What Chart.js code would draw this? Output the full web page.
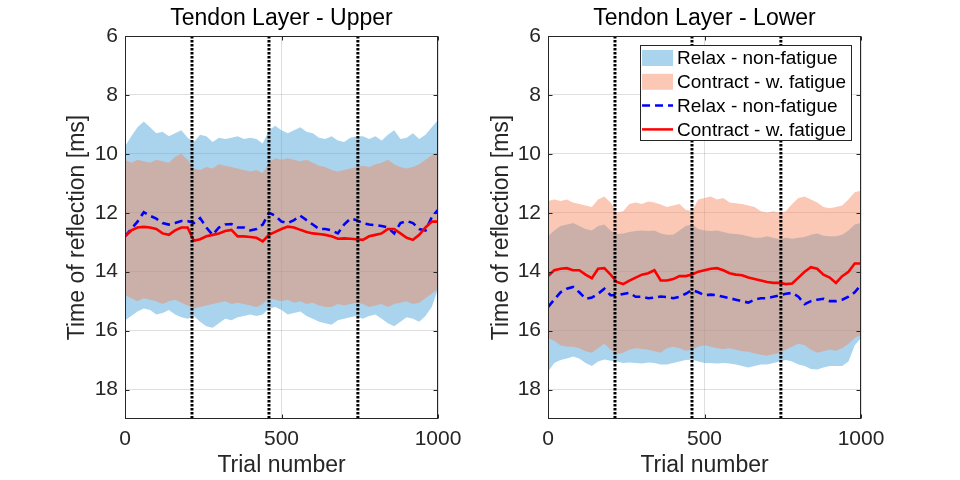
<!DOCTYPE html>
<html><head><meta charset="utf-8">
<script src="https://cdn.jsdelivr.net/npm/chart.js@4.4.1/dist/chart.umd.min.js"></script>
<style>
html,body{margin:0;padding:0;background:#fff;width:960px;height:480px;overflow:hidden}
.p{position:absolute;top:0;width:480px;height:480px}
</style></head><body>
<div class="p" style="left:0"><canvas id="c1" width="480" height="480"></canvas></div>
<div class="p" style="left:480px"><canvas id="c2" width="480" height="480"></canvas></div>
<script>
const trials = [0,20,40,60,80,100,120,140,160,180,200,220,240,260,280,300,320,340,360,380,400,420,440,460,480,500,520,540,560,580,600,620,640,660,680,700,720,740,760,780,800,820,840,860,880,900,920,940,960,980,1000];
const sessionBreaks = [214, 460, 744];
const yTicks = [6,8,10,12,14,16,18];
const xTicks = [0,500,1000];
const titles = ['Tendon Layer - Upper','Tendon Layer - Lower'];
const legendLabels = ['Relax - non-fatigue','Contract - w. fatigue','Relax - non-fatigue','Contract - w. fatigue'];

// Upper layer
const upperRelaxTop = [9.75,9.4,9.1,8.9,9.1,9.3,9.25,9.4,9.3,9.2,9.45,9.6,9.35,9.4,9.6,9.45,9.5,9.45,9.4,9.5,9.45,9.5,9.65,9.2,9.05,9.2,9.3,9.2,9.1,9.25,9.3,9.45,9.5,9.4,9.55,9.6,9.45,9.4,9.4,9.5,9.4,9.55,9.35,9.2,9.5,9.45,9.3,9.5,9.35,9.1,8.85];
const upperRelaxBottom = [15.65,15.5,15.35,15.25,15.3,15.45,15.4,15.3,15.45,15.55,15.6,15.5,15.7,15.85,15.9,15.75,15.6,15.65,15.55,15.5,15.45,15.5,15.45,15.25,15.2,15.3,15.45,15.4,15.35,15.5,15.6,15.7,15.75,15.8,15.65,15.6,15.55,15.5,15.6,15.5,15.45,15.6,15.75,15.85,15.7,15.55,15.6,15.7,15.5,15.2,14.6];
const upperContractTop = [10.2,10.3,10.2,10.25,10.3,10.2,10.25,10.3,10.1,10.0,10.2,10.5,10.55,10.45,10.5,10.35,10.4,10.45,10.5,10.55,10.6,10.55,10.65,10.3,10.15,10.2,10.15,10.2,10.25,10.2,10.3,10.4,10.45,10.55,10.6,10.55,10.5,10.45,10.4,10.45,10.35,10.3,10.2,10.35,10.45,10.5,10.45,10.35,10.2,10.05,9.95];
const upperContractBottom = [14.8,14.9,15.0,14.9,14.95,15.0,15.1,15.0,14.95,15.05,15.15,15.25,15.2,15.15,15.1,15.05,15.0,15.1,15.05,15.1,15.15,15.2,15.1,14.9,14.95,15.0,14.95,15.05,15.0,15.1,15.05,15.15,15.2,15.2,15.1,15.15,15.1,15.05,15.1,15.2,15.15,15.1,15.2,15.1,15.05,15.0,15.1,15.05,14.9,14.75,14.6];
const upperRelaxMean = [12.8,12.55,12.3,11.98,12.1,12.2,12.35,12.4,12.35,12.28,12.28,12.35,12.18,12.5,12.75,12.5,12.4,12.38,12.5,12.5,12.6,12.55,12.4,12.0,12.1,12.3,12.35,12.25,12.1,12.25,12.4,12.55,12.55,12.6,12.7,12.4,12.2,12.25,12.35,12.4,12.42,12.45,12.5,12.7,12.35,12.28,12.35,12.55,12.6,12.15,11.9];
const upperContractMean = [12.8,12.6,12.5,12.48,12.5,12.55,12.7,12.75,12.6,12.5,12.5,12.95,12.9,12.8,12.75,12.7,12.62,12.58,12.8,12.8,12.82,12.85,12.97,12.75,12.65,12.55,12.47,12.5,12.58,12.65,12.7,12.72,12.75,12.8,12.88,12.87,12.88,12.9,12.92,12.8,12.75,12.7,12.55,12.55,12.7,12.85,12.92,12.75,12.5,12.3,12.3];

// Lower layer
const lowerRelaxTop = [12.8,12.6,12.45,12.4,12.35,12.45,12.55,12.6,12.45,12.4,12.6,12.72,12.7,12.65,12.62,12.6,12.62,12.6,12.7,12.75,12.75,12.6,12.45,12.4,12.55,12.6,12.62,12.6,12.65,12.7,12.72,12.75,12.8,12.85,12.85,12.8,12.85,12.9,12.85,12.88,12.85,12.82,12.75,12.7,12.78,12.8,12.8,12.75,12.6,12.4,12.35];
const lowerRelaxBottom = [17.4,17.1,17.0,16.95,16.88,16.95,17.1,17.2,17.05,16.98,17.02,17.05,17.1,17.08,17.1,17.12,17.08,17.1,17.15,17.15,17.1,17.05,17.0,16.98,17.05,17.1,17.1,17.12,17.1,17.12,17.15,17.2,17.25,17.2,17.15,17.15,17.1,17.05,17.0,17.05,17.15,17.2,17.3,17.32,17.25,17.2,17.2,17.2,17.05,16.5,16.25];
const lowerContractTop = [11.6,11.55,11.6,11.55,11.65,11.7,11.75,11.8,11.55,11.45,11.65,12.0,11.95,11.7,11.65,11.7,11.62,11.65,11.72,11.8,11.75,11.7,11.9,11.95,11.55,11.5,11.45,11.55,11.5,11.65,11.68,11.7,11.75,11.8,11.95,12.0,11.95,12.0,11.95,11.7,11.5,11.45,11.55,11.65,11.8,11.85,11.8,11.75,11.55,11.3,11.25];
const lowerContractBottom = [16.25,16.35,16.5,16.55,16.55,16.6,16.7,16.75,16.6,16.45,16.65,16.8,16.75,16.65,16.6,16.62,16.65,16.7,16.75,16.6,16.55,16.6,16.68,16.65,16.55,16.5,16.55,16.6,16.62,16.6,16.65,16.7,16.72,16.78,16.82,16.85,16.8,16.75,16.65,16.55,16.45,16.5,16.65,16.75,16.7,16.65,16.68,16.6,16.45,16.25,16.15];
const lowerRelaxMean = [15.2,14.95,14.7,14.58,14.52,14.7,14.92,14.88,14.75,14.58,14.8,14.8,14.76,14.72,14.85,14.85,14.9,14.88,14.84,14.86,14.9,14.85,14.75,14.62,14.7,14.8,14.78,14.8,14.85,14.9,14.95,15.0,15.05,14.95,14.9,14.9,14.85,14.8,14.75,14.72,14.85,15.1,15.0,14.95,14.92,15.0,15.0,14.95,14.85,14.7,14.45];
const lowerContractMean = [14.15,13.95,13.9,13.88,13.95,13.95,14.1,14.22,13.9,13.88,14.1,14.35,14.42,14.3,14.2,14.1,14.05,13.95,14.3,14.3,14.25,14.15,14.15,14.1,14.0,13.95,13.9,13.88,13.95,14.05,14.1,14.12,14.2,14.25,14.3,14.35,14.38,14.38,14.42,14.4,14.2,14.0,13.85,13.9,14.1,14.2,14.38,14.15,14.0,13.72,13.72];

const RELAX_FILL = 'rgba(66,159,217,0.45)';
const CONTRACT_FILL = 'rgba(244,133,88,0.45)';
const BLUE = '#0000ff';
const RED = '#ff0000';
const TXT = '#262626';
const FONT = '"Liberation Sans", Arial, Helvetica, sans-serif';

const pts = arr => trials.map((t, i) => ({x: t, y: arr[i]}));

const boxPlugin = {
  id: 'axesBox',
  afterDatasetsDraw(chart) {
    const {ctx, chartArea: a, scales: {x, y}} = chart;
    ctx.save();
    ctx.strokeStyle = TXT; ctx.lineWidth = 1;
    const L = a.left + 0.5, R = a.right - 0.5, T = a.top + 0.5, B = a.bottom - 0.5;
    ctx.strokeRect(L, T, R - L, B - T);
    ctx.beginPath();
    y.ticks.forEach(t => {
      const py = Math.round(y.getPixelForValue(t.value)) + 0.5;
      ctx.moveTo(L, py); ctx.lineTo(L + 4, py);
      ctx.moveTo(R, py); ctx.lineTo(R - 4, py);
    });
    x.ticks.forEach(t => {
      const px = Math.round(x.getPixelForValue(t.value)) + 0.5;
      ctx.moveTo(px, B); ctx.lineTo(px, B - 4);
      ctx.moveTo(px, T); ctx.lineTo(px, T + 4);
    });
    ctx.stroke();
    ctx.restore();
  }
};

const legendPlugin = {
  id: 'boxLegend',
  afterDraw(chart, args, opts) {
    if (!opts.show) return;
    const {ctx, chartArea: a} = chart;
    const styles = [
      {patch: RELAX_FILL}, {patch: CONTRACT_FILL},
      {line: BLUE, dash: [8, 5]}, {line: RED, dash: []}
    ];
    ctx.save();
    ctx.font = '19px ' + FONT;
    const tw = Math.max(...legendLabels.map(s => ctx.measureText(s).width));
    const w = 2 + 31 + 4 + tw + 6, h = 96, rowH = 23.8;
    const right = a.right - 9, top = a.top + 9, left = right - w;
    ctx.fillStyle = '#fff'; ctx.fillRect(left, top, w, h);
    ctx.strokeStyle = TXT; ctx.lineWidth = 1;
    ctx.strokeRect(Math.round(left) + 0.5, top + 0.5, Math.round(w) - 1, h - 1);
    legendLabels.forEach((lab, i) => {
      const cy = top + 13 + i * rowH;
      const sx = left + 2;
      const st = styles[i];
      if (st.patch) {
        ctx.fillStyle = st.patch;
        ctx.fillRect(sx, cy - 8, 31, 16);
      } else {
        ctx.strokeStyle = st.line; ctx.lineWidth = 2.5;
        ctx.setLineDash(st.dash);
        ctx.beginPath(); ctx.moveTo(sx, cy); ctx.lineTo(sx + 31, cy); ctx.stroke();
        ctx.setLineDash([]);
      }
      ctx.fillStyle = '#000';
      ctx.textBaseline = 'middle'; ctx.textAlign = 'left';
      ctx.fillText(lab, sx + 35, cy + 1);
    });
    ctx.restore();
  }
};

function makeChart(id, title, relaxTop, relaxBottom, contractTop, contractBottom, relaxMean, contractMean, pad, showLegend) {
  const datasets = [
    {data: pts(relaxTop), borderWidth: 0, pointRadius: 0, fill: false, order: 10, backgroundColor: RELAX_FILL},
    {data: pts(relaxBottom), borderWidth: 0, pointRadius: 0, fill: '-1', order: 10, backgroundColor: RELAX_FILL},
    {data: pts(contractTop), borderWidth: 0, pointRadius: 0, fill: false, order: 8, backgroundColor: CONTRACT_FILL},
    {data: pts(contractBottom), borderWidth: 0, pointRadius: 0, fill: '-1', order: 8, backgroundColor: CONTRACT_FILL},
    {data: pts(relaxMean), borderColor: BLUE, borderWidth: 2.6, borderDash: [8, 5], pointRadius: 0, fill: false, order: 4},
    {data: pts(contractMean), borderColor: RED, borderWidth: 2.6, pointRadius: 0, fill: false, order: 3}
  ];
  sessionBreaks.forEach(b => datasets.push({
    data: [{x: b, y: 6}, {x: b, y: 19}], borderColor: '#000', borderWidth: 3,
    borderDash: [2.5, 1.5], pointRadius: 0, fill: false, order: 1
  }));
  return new Chart(document.getElementById(id), {
    type: 'line',
    data: {datasets},
    options: {
      responsive: false, animation: false, devicePixelRatio: 1,
      layout: {padding: pad},
      elements: {line: {tension: 0}},
      plugins: {
        legend: {display: false}, tooltip: {enabled: false},
        title: {display: true, text: title, color: '#000', fullSize: false,
                font: {family: FONT, size: 23, weight: 'normal'}, padding: {top: 5, bottom: 3.4}},
        boxLegend: {show: showLegend}
      },
      scales: {
        x: {
          type: 'linear', min: 0, max: 1000,
          afterBuildTicks: s => { s.ticks = xTicks.map(v => ({value: v})); },
          afterFit: s => { s.height = 61; },
          grid: {color: 'rgba(38,38,38,0.15)', drawTicks: false},
          border: {display: false},
          ticks: {color: TXT, font: {family: FONT, size: 21}, padding: 8, maxRotation: 0, callback: v => String(v)},
          title: {display: true, text: 'Trial number', color: TXT, font: {family: FONT, size: 23}, padding: {top: 0, bottom: 1}}
        },
        y: {
          type: 'linear', min: 6, max: 19, reverse: true,
          afterBuildTicks: s => { s.ticks = yTicks.map(v => ({value: v})); },
          afterFit: s => { s.width = pad.yw; },
          grid: {color: 'rgba(38,38,38,0.15)', drawTicks: false},
          border: {display: false},
          ticks: {color: TXT, font: {family: FONT, size: 21}, padding: 7, callback: v => String(v)},
          title: {display: true, text: 'Time of reflection [ms]', color: TXT, font: {family: FONT, size: 23}, padding: {top: 4, bottom: 0}}
        }
      }
    },
    plugins: [boxPlugin, legendPlugin]
  });
}

makeChart('c1', titles[0], upperRelaxTop, upperRelaxBottom, upperContractTop, upperContractBottom, upperRelaxMean, upperContractMean,
  {left: 60, right: 42, top: 0, bottom: 0, yw: 65}, false);
makeChart('c2', titles[1], lowerRelaxTop, lowerRelaxBottom, lowerContractTop, lowerContractBottom, lowerRelaxMean, lowerContractMean,
  {left: 4, right: 99, top: 0, bottom: 0, yw: 64}, true);
</script>
</body></html>
